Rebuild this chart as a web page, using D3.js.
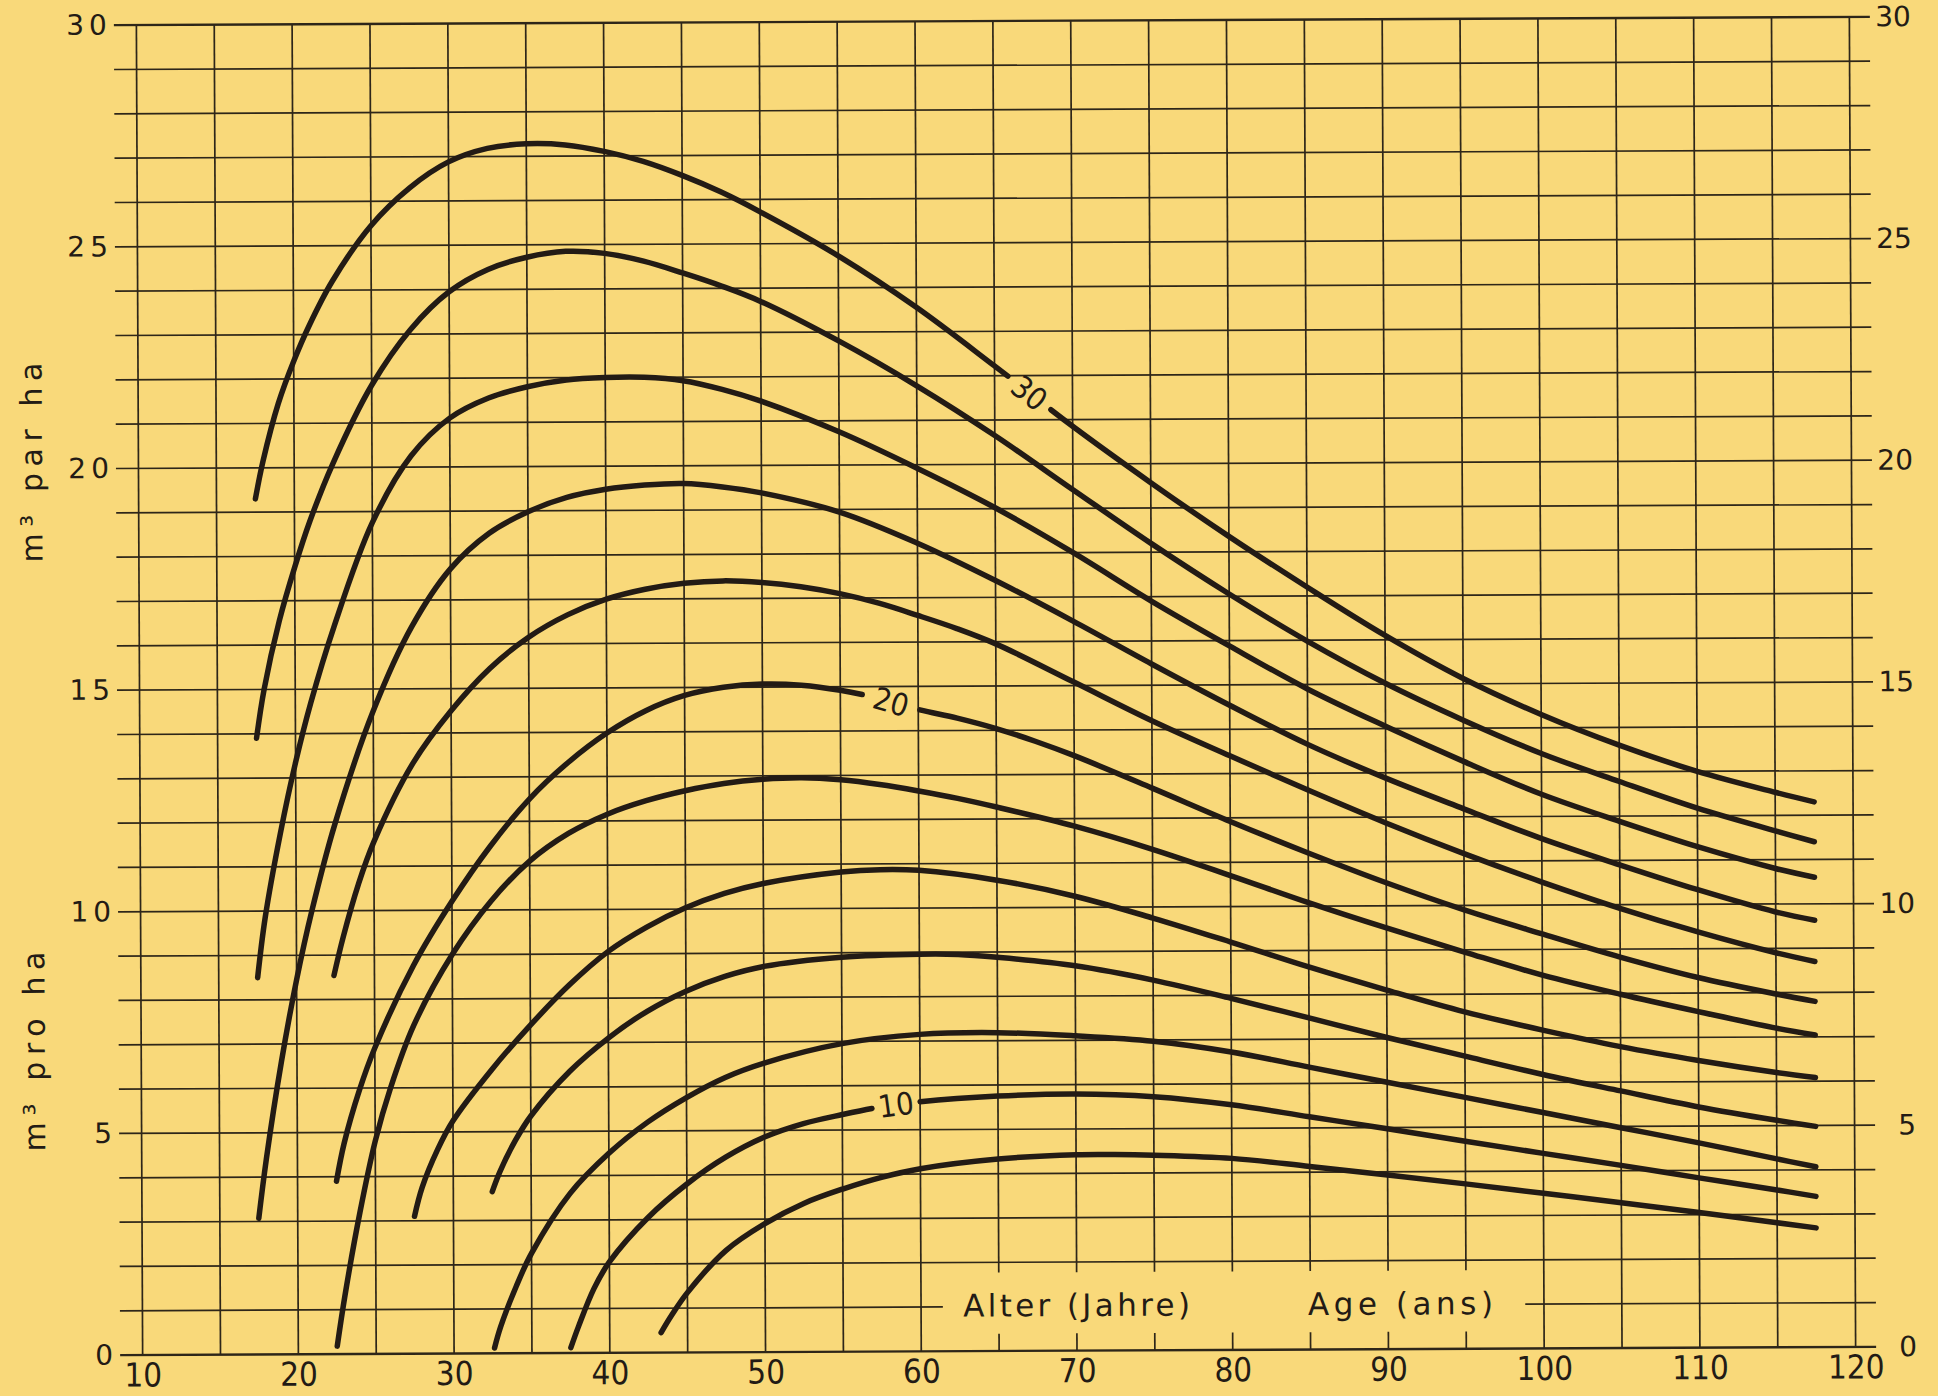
<!DOCTYPE html>
<html><head><meta charset="utf-8">
<script src="https://cdn.jsdelivr.net/npm/d3@7"></script>
<style>
html,body{margin:0;padding:0;background:#F9D97A;}
svg{display:block;}
</style></head>
<body>
<svg id="chart" width="1938" height="1396"></svg>
<script>
// ---- data (age in years, increment in m3 per ha) ----
const ages = [10,20,30,40,50,60,70,80,90,100,110,120];
const volumeTicks = [0,5,10,15,20,25,30];
const yc30 = [[17.5,19.3],[18,20.15],[19,21.45],[20,22.4],[21,23.2],[22.5,24.2],[25,25.45],[27.5,26.3],[30,26.88],[32.5,27.18],[35,27.28],[37.5,27.25],[40,27.1],[42.5,26.87],[45,26.55],[47.5,26.17],[50,25.72],[55,24.72],[60,23.55],[65,22.22],[70,20.85],[75,19.57],[80,18.35],[85,17.2],[90,16.1],[95,15.12],[100,14.3],[105,13.6],[110,13.0],[115,12.52],[117.5,12.3]];
const yc28 = [[17.5,13.9],[18,15.0],[19,16.55],[20,17.75],[21,18.8],[22.5,20.1],[25,21.85],[27.5,23.1],[30,23.95],[32.5,24.45],[35,24.72],[37.5,24.85],[40,24.8],[42.5,24.62],[45,24.35],[47.5,24.05],[50,23.7],[55,22.8],[60,21.78],[65,20.65],[70,19.42],[75,18.2],[80,17.05],[85,15.98],[90,15.02],[95,14.18],[100,13.42],[105,12.78],[110,12.17],[115,11.65],[117.5,11.4]];
const yc26 = [[17.5,8.5],[18,9.85],[19,11.75],[20,13.35],[21,14.7],[22.5,16.4],[25,18.75],[27.5,20.25],[30,21.1],[32.5,21.55],[35,21.8],[37.5,21.95],[40,22.0],[42.5,22.0],[45,21.92],[47.5,21.72],[50,21.45],[55,20.75],[60,19.92],[65,19.02],[70,18.0],[75,16.9],[80,15.88],[85,14.9],[90,14.05],[95,13.25],[100,12.5],[105,11.88],[110,11.3],[115,10.8],[117.5,10.6]];
const yc24 = [[17.5,3.07],[18,4.4],[19,6.6],[20,8.45],[21,10.0],[22.5,11.95],[25,14.5],[27.5,16.4],[30,17.7],[32.5,18.5],[35,18.98],[37.5,19.3],[40,19.48],[42.5,19.57],[45,19.6],[47.5,19.52],[50,19.38],[55,18.94],[60,18.23],[65,17.38],[70,16.45],[75,15.48],[80,14.54],[85,13.65],[90,12.88],[95,12.18],[100,11.5],[105,10.9],[110,10.33],[115,9.82],[117.5,9.63]];
const yc22 = [[22.4,8.54],[23,9.4],[24,10.6],[25,11.55],[27.5,13.3],[30,14.5],[32.5,15.45],[35,16.15],[37.5,16.65],[40,17.0],[42.5,17.22],[45,17.35],[47.5,17.4],[50,17.36],[52.5,17.26],[55,17.1],[57.5,16.88],[60,16.6],[62.5,16.3],[65,15.95],[70,15.08],[75,14.2],[80,13.4],[85,12.62],[90,11.87],[95,11.17],[100,10.52],[105,9.92],[110,9.38],[115,8.9],[117.5,8.7]];
const yc20 = [[22.5,3.9],[23,4.75],[24,5.95],[25,6.9],[27.5,8.75],[30,10.2],[32.5,11.45],[35,12.5],[37.5,13.32],[40,13.98],[42.5,14.48],[45,14.82],[47.5,15.0],[50,15.07],[52.5,15.04],[55,14.92],[57.5,14.73],[60,14.48],[62.5,14.28],[65,14.04],[67.5,13.75],[70,13.42],[75,12.68],[80,11.92],[85,11.2],[90,10.52],[95,9.9],[100,9.35],[105,8.82],[110,8.35],[115,7.97],[117.5,7.8]];
const yc18 = [[22.5,0.18],[23,1.3],[24,3.2],[25,4.8],[26,6.0],[27.5,7.4],[30,9.0],[32.5,10.2],[35,11.1],[37.5,11.72],[40,12.15],[42.5,12.45],[45,12.67],[47.5,12.83],[50,12.92],[52.5,12.95],[55,12.9],[57.5,12.79],[60,12.64],[62.5,12.47],[65,12.27],[70,11.83],[75,11.3],[80,10.7],[85,10.08],[90,9.5],[95,8.95],[100,8.42],[105,7.98],[110,7.58],[115,7.2],[117.5,7.04]];
const yc16 = [[27.5,3.1],[28,3.75],[29,4.6],[30,5.25],[32.5,6.4],[35,7.4],[37.5,8.3],[40,9.05],[42.5,9.6],[45,10.03],[47.5,10.35],[50,10.57],[55,10.82],[57.5,10.87],[60,10.85],[65,10.62],[70,10.25],[75,9.75],[80,9.2],[85,8.63],[90,8.1],[95,7.6],[100,7.18],[105,6.8],[110,6.48],[115,6.2],[117.5,6.08]];
const yc14 = [[32.5,3.65],[33,4.1],[34,4.8],[35,5.35],[37.5,6.35],[40,7.1],[42.5,7.7],[45,8.15],[47.5,8.48],[50,8.7],[55,8.9],[60,8.96],[62.5,8.95],[65,8.88],[70,8.68],[75,8.35],[80,7.93],[85,7.48],[90,7.03],[95,6.6],[100,6.18],[105,5.8],[110,5.43],[115,5.12],[117.5,4.98]];
const yc12 = [[32.6,0.12],[33,0.6],[34,1.5],[35,2.25],[37.5,3.6],[40,4.5],[42.5,5.2],[45,5.75],[47.5,6.2],[50,6.52],[55,6.95],[60,7.15],[65,7.18],[70,7.1],[75,6.97],[80,6.72],[85,6.37],[90,6.02],[95,5.67],[100,5.32],[105,4.97],[110,4.62],[115,4.25],[117.5,4.07]];
const yc10 = [[37.5,0.12],[38,0.6],[39,1.45],[40,2.05],[42.5,3.05],[45,3.8],[47.5,4.4],[50,4.85],[52.5,5.15],[55,5.35],[57.5,5.52],[60,5.63],[65,5.75],[70,5.79],[75,5.72],[80,5.53],[85,5.25],[90,4.97],[95,4.68],[100,4.4],[105,4.12],[110,3.83],[115,3.55],[117.5,3.4]];
const yc8 = [[43.3,0.45],[44,0.85],[45,1.35],[47.5,2.3],[50,2.9],[52.5,3.35],[55,3.67],[57.5,3.93],[60,4.12],[65,4.33],[70,4.42],[72.5,4.42],[75,4.4],[80,4.32],[85,4.13],[90,3.93],[95,3.72],[100,3.5],[105,3.28],[110,3.05],[115,2.81],[117.5,2.69]];
const seriesNames = ["30","28","26","24","22","20","18","16","14","12","10","8"];
const seriesValues = [yc30,yc28,yc26,yc24,yc22,yc20,yc18,yc16,yc14,yc12,yc10,yc8];
// ages where the inline labels interrupt a curve
const labelGaps = {"30":[65.85,68.6], "20":[56.4,60.1], "10":[56.9,60.0]};
const titleDe = "Alter (Jahre)", titleFr = "Age (ans)";
const yTitleFr = "m\u00B3 par ha", yTitleDe = "m\u00B3 pro ha";

// ---- drawing ----
const W = 1938, H = 1396;
const BG = "#F9D97A", INK = "#231b15", GRID = "#2e2619";
const svg = d3.select("#chart");
svg.append("rect").attr("width", W).attr("height", H).attr("fill", BG);

const x = d3.scaleLinear().domain([10,120]).range([139.5,1852.5]);
const y = d3.scaleLinear().domain([0,30]).range([1351,21]);

// the scanned sheet is very slightly rotated
const g = svg.append("g").attr("transform","rotate(-0.27,996,686)");

const gx0 = x(10) - 22.5, gx1 = x(120) + 20.5;
const gapAges = [61.4, 98.8], gapVols = [0.39, 1.77];

// horizontal grid
d3.range(0,31).forEach(v => {
  const segs = v === 1 ? [[gx0, x(gapAges[0])],[x(gapAges[1]), gx1]] : [[gx0, gx1]];
  segs.forEach(([a,b]) => g.append("line")
    .attr("x1",a).attr("x2",b).attr("y1",y(v)).attr("y2",y(v))
    .attr("stroke",GRID).attr("stroke-width", (v===0||v===30)?2.4:1.7));
});
// vertical grid
d3.range(10,121,5).forEach(a => {
  const inGap = a > gapAges[0] && a < gapAges[1];
  const segs = inGap ? [[0,gapVols[0]],[gapVols[1],30]] : [[0,30]];
  segs.forEach(([v0,v1]) => g.append("line")
    .attr("x1",x(a)).attr("x2",x(a)).attr("y1",y(v0)).attr("y2",y(v1))
    .attr("stroke",GRID).attr("stroke-width",1.7));
});

// axes
const xAxis = d3.axisBottom(x).tickValues(ages).tickSize(0).tickPadding(8).tickFormat(d3.format("d"));
const gxA = g.append("g").attr("transform",`translate(0,${y(0)})`).call(xAxis);
gxA.select(".domain").remove();
gxA.selectAll("text").attr("fill",INK)
  .style("font-family","'Liberation Sans Narrow','DejaVu Sans Condensed','Liberation Sans',sans-serif")
  .style("font-size","33px");

const yAxisL = d3.axisLeft(y).tickValues(volumeTicks).tickSize(0).tickPadding(2).tickFormat(d3.format("d"));
const gyL = g.append("g").attr("transform",`translate(${gx0},0)`).call(yAxisL);
gyL.select(".domain").remove();
gyL.selectAll("text").attr("fill",INK)
  .style("font-family","'DejaVu Sans',sans-serif").style("font-size","28px").style("letter-spacing","5px");

const yAxisR = d3.axisRight(y).tickValues(volumeTicks).tickSize(0).tickFormat(d3.format("d"));
const gyR = g.append("g").attr("transform",`translate(${gx1},0)`).call(yAxisR);
gyR.select(".domain").remove();
gyR.selectAll("text").attr("x",41).attr("text-anchor","end").attr("fill",INK)
  .style("font-family","'DejaVu Sans',sans-serif").style("font-size","28px");

// axis titles
const tFont = "'DejaVu Sans',sans-serif";
g.append("text").text(titleDe).attr("x",x(62.7)).attr("y",y(0.78))
  .attr("textLength",227).attr("lengthAdjust","spacing")
  .attr("fill",INK).style("font-family",tFont).style("font-size","31px");
g.append("text").text(titleFr).attr("x",x(84.85)).attr("y",y(0.78))
  .attr("textLength",185).attr("lengthAdjust","spacing")
  .attr("fill",INK).style("font-family",tFont).style("font-size","31px");
[[yTitleFr, 458],[yTitleDe, 1047]].forEach(([t,cy]) => {
  g.append("text").text(t).attr("x",43).attr("y",cy)
    .attr("transform",`rotate(-90,43,${cy})`).attr("text-anchor","middle")
    .attr("textLength",200).attr("lengthAdjust","spacing")
    .attr("fill",INK).style("font-family",tFont).style("font-size","30px");
});

// curves
const line = d3.line().x(d => x(d[0])).y(d => y(d[1])).curve(d3.curveCatmullRom.alpha(0.5));
function lengthAtX(node, px){
  let lo = 0, hi = node.getTotalLength();
  for (let i=0;i<40;i++){
    const mid = (lo+hi)/2;
    if (node.getPointAtLength(mid).x < px) lo = mid; else hi = mid;
  }
  return (lo+hi)/2;
}
seriesValues.forEach((vals,i) => {
  const name = seriesNames[i];
  const p = g.append("path").attr("d", line(vals)).attr("fill","none")
    .attr("stroke",INK).attr("stroke-width",5.5)
    .attr("stroke-linecap","round").attr("stroke-linejoin","round");
  const gap = labelGaps[name];
  if (gap){
    const node = p.node();
    const total = node.getTotalLength();
    const L0 = lengthAtX(node, x(gap[0])), L1 = lengthAtX(node, x(gap[1]));
    p.attr("stroke-dasharray", `${L0} ${L1-L0} ${total}`);
    const m = (L0+L1)/2;
    const c = node.getPointAtLength(m), a = node.getPointAtLength(m-4), b = node.getPointAtLength(m+4);
    const ang = Math.atan2(b.y-a.y, b.x-a.x)*180/Math.PI;
    g.append("text").text(name).attr("x",c.x).attr("y",c.y).attr("dy","0.36em")
      .attr("text-anchor","middle").attr("transform",`rotate(${ang},${c.x},${c.y})`)
      .attr("fill",INK)
      .style("font-family","'Liberation Sans Narrow','DejaVu Sans Condensed','Liberation Sans',sans-serif")
      .style("font-size","31px");
  }
});
</script>
</body></html>
